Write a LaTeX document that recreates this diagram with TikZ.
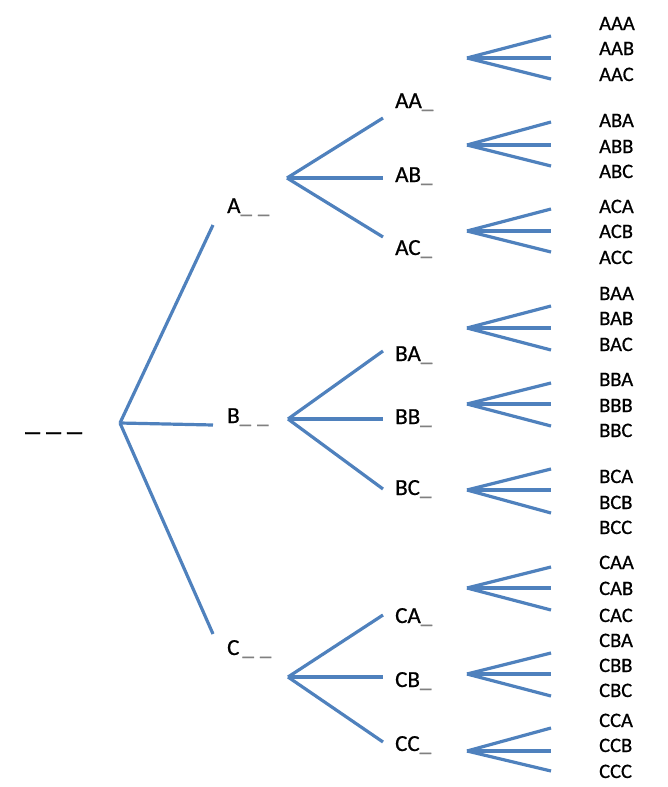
\documentclass[tikz,border=0pt]{standalone}
\usepackage{fontspec}
\setmainfont{Carlito}[FakeBold=0.7]
\definecolor{branch}{HTML}{4F81BD}
\definecolor{dashgray}{HTML}{808080}
\begin{document}
\begin{tikzpicture}[x=1pt,y=-1pt,
  edge/.style={draw=branch, line width=3.2pt},
  lvl/.style={anchor=base west, inner sep=0pt, font=\fontsize{23}{27}\selectfont},
  leaf/.style={anchor=base west, inner sep=0pt, font=\fontsize{20.5}{24}\selectfont},
  rootlbl/.style={anchor=base west, inner sep=0pt, font=\fontsize{30}{34}\selectfont}]
\useasboundingbox (0,0) rectangle (667,787);
\newcommand{\gu}{\textcolor{dashgray}{\_}}
% root
\node[rootlbl] (root) at (25,430) {\_\hspace{6pt}\_\hspace{6pt}\_};
\coordinate (rJ) at (120,423);
% level 1 endpoints and labels
\coordinate (Ain) at (213,225);
\coordinate (Bin) at (213,425);
\coordinate (Cin) at (213,634);
\node[lvl] (A) at (227,213) {A\gu\hspace{6pt}\gu};
\node[lvl] (B) at (227,423) {B\gu\hspace{6pt}\gu};
\node[lvl] (C) at (227,655) {C\hspace{3pt}\gu\hspace{6pt}\gu};
\draw[edge] (rJ) -- (Ain);
\draw[edge] (rJ) -- (Bin);
\draw[edge] (rJ) -- (Cin);
% level 2 junctions
\coordinate (AJ) at (287,178);
\coordinate (BJ) at (288,419);
\coordinate (CJ) at (288,677);
% level 2 endpoints
\coordinate (AAin) at (383,118);
\coordinate (ABin) at (383,178);
\coordinate (ACin) at (383,237);
\coordinate (BAin) at (383,351);
\coordinate (BBin) at (383,419);
\coordinate (BCin) at (383,489);
\coordinate (CAin) at (383,615);
\coordinate (CBin) at (383,677);
\coordinate (CCin) at (383,742);
\foreach \p in {A,B,C}{
  \foreach \q in {A,B,C}{
    \draw[edge] (\p J) -- (\p\q in);
  }
}
% level 2 labels
\node[lvl] (AA) at (395,108) {AA\gu};
\node[lvl] (AB) at (395,182) {AB\gu};
\node[lvl] (AC) at (395,255) {AC\gu};
\node[lvl] (BA) at (395,361) {BA\gu};
\node[lvl] (BB) at (395,424) {BB\gu};
\node[lvl] (BC) at (395,495) {BC\gu};
\node[lvl] (CA) at (395,623) {CA\gu};
\node[lvl] (CB) at (395,687) {CB\gu};
\node[lvl] (CC) at (395,751) {CC\gu};
% level 3 fans: name / junction y / three end ys
\foreach \n/\j/\ea/\eb/\ec in {AA/58/36/58/79, AB/145/122/145/166, AC/231/209/231/252,
                               BA/328/306/328/350, BB/404/383/404/426, BC/490/469/490/513,
                               CA/588/567/588/610, CB/674/653/674/696, CC/751/728/751/771}{
  \coordinate (\n J) at (467,\j);
  \coordinate (\n A e) at (551,\ea);
  \coordinate (\n B e) at (551,\eb);
  \coordinate (\n C e) at (551,\ec);
  \draw[edge] (\n J) -- (\n A e);
  \draw[edge] (\n J) -- (\n B e);
  \draw[edge] (\n J) -- (\n C e);
}
% leaf labels
\foreach \t/\y in {AAA/30, AAB/55, AAC/81, ABA/127, ABB/153, ABC/178, ACA/213, ACB/238, ACC/264,
                   BAA/300, BAB/325, BAC/351, BBA/386, BBB/412, BBC/437, BCA/483, BCB/509, BCC/534,
                   CAA/569, CAB/595, CAC/622, CBA/647, CBB/672, CBC/697, CCA/727, CCB/752, CCC/778}{
  \node[leaf] (\t) at (599,\y) {\t};
}
\end{tikzpicture}
\end{document}
